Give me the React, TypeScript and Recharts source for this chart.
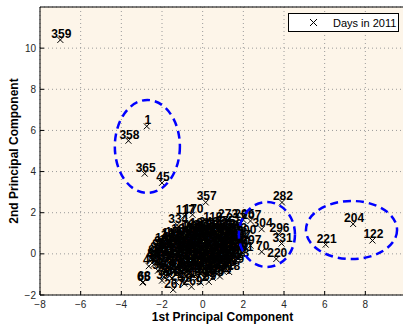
import { ScatterChart, Scatter, XAxis, YAxis, CartesianGrid, ReferenceArea, Legend } from 'recharts'

// isolated days (PC1, PC2)
const outlierX = [-7.0, -2.75, -3.65, -2.85, -2.0, 0.15, 3.9, 7.4, 8.35, 6.05, 3.62, 3.88, 3.73, 2.9, 2.0, 2.35, 2.9,
  -2.95, -2.93, -1.45, -0.55, -0.9, -0.5, 0.45, -1.25, -0.6, -1.6, -2.0, -2.45, -2.65, -2.0, 1.2, 1.6, 2.35, 2.1]
const outlierY = [10.4, 6.2, 5.5, 3.9, 3.45, 2.5, 2.5, 1.45, 0.65, 0.45, -0.25, 0.5, 0.95, 1.2, 1.65, 1.6, 0.1,
  -1.4, -1.37, -1.75, -1.6, 1.85, 1.9, 1.5, 1.4, 1.1, 0.7, 0.2, -0.25, -0.6, -1.3, 1.65, 1.45, 0.4, 0.85]
const outlierDay = [359, 1, 358, 365, 45, 357, 282, 204, 122, 221, 220, 331, 296, 304, 205, 207, 70,
  65, 68, 267, 269, 117, 170, 119, 334, 186, 111, 78, 85, 47, 39, 273, 237, 297, 300]

// the dense cloud of ordinary days
const clusterX = [
  -0.2, 0.25, 0.7, 1.05, 1.4,
  -1.1, -0.7, -0.3, 0.1, 0.5, 0.9, 1.3, 1.65,
  -1.6, -1.2, -0.8, -0.4, 0.0, 0.4, 0.8, 1.2, 1.55, 1.85,
  -2.1, -1.7, -1.3, -0.9, -0.5, -0.1, 0.3, 0.7, 1.1, 1.45, 1.8,
  -2.3, -1.9, -1.5, -1.1, -0.7, -0.3, 0.1, 0.5, 0.9, 1.3, 1.65, 1.95,
  -2.5, -2.1, -1.7, -1.3, -0.9, -0.5, -0.1, 0.3, 0.7, 1.1, 1.45, 1.75,
  -2.4, -2.0, -1.6, -1.2, -0.8, -0.4, 0.0, 0.4, 0.8, 1.2, 1.5,
  -2.2, -1.8, -1.4, -1.0, -0.6, -0.2, 0.2, 0.6, 1.0, 1.3,
  -1.9, -1.5, -1.1, -0.7, -0.3, 0.1, 0.5, 0.85,
  -1.3, -0.9, -0.1, 0.3,
  -0.5, -0.05, 0.45, 0.9, 1.25,
  -1.4, -0.9, -0.5, -0.1, 0.3, 0.7, 1.1, 1.5,
  -1.9, -1.5, -1.1, -0.7, -0.3, 0.1, 0.5, 0.9, 1.3, 1.65,
  -2.2, -1.8, -1.4, -1.0, -0.6, -0.2, 0.2, 0.6, 1.0, 1.4, 1.7,
  -2.4, -2.0, -1.6, -1.2, -0.8, -0.4, 0.0, 0.4, 0.8, 1.2, 1.6,
  -2.3, -1.9, -1.5, -1.1, -0.7, -0.3, 0.1, 0.5, 0.9, 1.3,
  -2.1, -1.7, -1.3, -0.9, -0.5, -0.1, 0.3, 0.7, 1.1,
  -1.7, -1.3, -0.9, -0.5, -0.1, 0.3, 0.7,
]
const clusterY = [
  1.22, 1.28, 1.2, 1.3, 1.18,
  0.92, 0.98, 0.9, 1.0, 0.94, 0.97, 0.9, 0.95,
  0.62, 0.68, 0.6, 0.66, 0.7, 0.62, 0.65, 0.6, 0.68, 0.63,
  0.32, 0.38, 0.3, 0.36, 0.4, 0.33, 0.37, 0.3, 0.35, 0.38, 0.32,
  0.02, 0.08, 0.0, 0.06, 0.1, 0.03, 0.07, 0.0, 0.05, 0.08, 0.02, 0.06,
  -0.28, -0.22, -0.3, -0.24, -0.2, -0.27, -0.23, -0.3, -0.25, -0.21, -0.28, -0.24,
  -0.52, -0.58, -0.5, -0.56, -0.6, -0.53, -0.57, -0.5, -0.55, -0.58, -0.52,
  -0.82, -0.88, -0.8, -0.86, -0.9, -0.83, -0.87, -0.8, -0.85, -0.88,
  -1.12, -1.18, -1.1, -1.16, -1.2, -1.13, -1.17, -1.1,
  -1.38, -1.45, -1.4, -1.36,
  1.08, 1.12, 1.05, 1.1, 1.06,
  0.78, 0.82, 0.76, 0.8, 0.84, 0.79, 0.77, 0.81,
  0.48, 0.52, 0.47, 0.5, 0.54, 0.49, 0.51, 0.46, 0.53, 0.48,
  0.18, 0.22, 0.17, 0.2, 0.24, 0.19, 0.21, 0.16, 0.23, 0.18, 0.2,
  -0.12, -0.08, -0.1, -0.13, -0.07, -0.11, -0.09, -0.14, -0.1, -0.08, -0.12,
  -0.42, -0.38, -0.4, -0.43, -0.37, -0.41, -0.39, -0.44, -0.4, -0.38,
  -0.72, -0.68, -0.7, -0.73, -0.67, -0.71, -0.69, -0.74, -0.7,
  -1.02, -0.98, -1.0, -1.03, -0.97, -1.01, -0.99,
]
const clusterDay = [
  183, 246, 213, 275, 236,
  184, 152, 198, 161, 229, 250, 239, 263,
  101, 135, 172, 146, 190, 209, 222, 255, 241, 287,
  92, 124, 107, 141, 166, 177, 201, 218, 232, 258, 290,
  83, 98, 113, 128, 155, 160, 187, 195, 226, 244, 268, 301,
  44, 86, 95, 130, 149, 171, 188, 206, 215, 251, 272, 293,
  40, 57, 74, 103, 138, 159, 180, 197, 225, 262, 309,
  36, 52, 67, 90, 116, 143, 168, 193, 231, 318,
  31, 48, 63, 81, 109, 136, 175, 284,
  24, 59, 72, 89,
  200, 212, 245, 256, 270,
  150, 162, 173, 189, 202, 219, 234, 260,
  105, 118, 131, 147, 163, 178, 194, 214, 240, 266,
  96, 110, 126, 140, 157, 174, 191, 208, 227, 253, 278,
  87, 100, 114, 127, 145, 165, 181, 199, 216, 248, 286,
  50, 61, 77, 99, 121, 142, 164, 185, 223, 264,
  42, 55, 69, 91, 123, 148, 176, 203, 233,
  28, 46, 62, 79, 104, 137, 182,
]

// dashed groupings: centre and half-extent in data units
const ellipseCx = [-2.72, 3.16, 7.32]
const ellipseCy = [5.22, 0.94, 1.16]
const ellipseRx = [1.6, 1.38, 2.24]
const ellipseRy = [2.26, 1.58, 1.41]

const xTicks = [-8, -6, -4, -2, 0, 2, 4, 6, 8]
const yTicks = [-2, 0, 2, 4, 6, 8, 10]

const FONT = '"Liberation Sans", Arial, Helvetica, sans-serif'
const TM = 4

const fmt = (v: number) => (v < 0 ? '\u2212' + Math.abs(v) : String(v))

const clusterData = clusterX.map((x, i) => ({ x, y: clusterY[i], day: clusterDay[i] }))
const outlierData = outlierX.map((x, i) => ({ x, y: outlierY[i], day: outlierDay[i] }))

function DayMark(props: any) {
  const { cx, cy, payload } = props
  if (cx == null || cy == null) return null
  return (
    <g>
      <path
        d={`M${cx - 3},${cy - 3}L${cx + 3},${cy + 3}M${cx - 3},${cy + 3}L${cx + 3},${cy - 3}`}
        stroke="#000"
        strokeWidth={1}
      />
      <text x={cx + 1} y={cy - 2} textAnchor="middle" fontSize={12} fontWeight="bold" fontFamily={FONT} fill="#000">
        {payload.day}
      </text>
    </g>
  )
}

function BottomTick(props: any) {
  const { x, y, payload } = props
  const axisY = y - TM
  return (
    <g>
      <line x1={x} x2={x} y1={axisY} y2={axisY - 4} stroke="#000" />
      <text x={x} y={axisY + 13} textAnchor="middle" fontSize={10} fontFamily={FONT} fill="#262626">
        {fmt(payload.value)}
      </text>
    </g>
  )
}

function TopTick(props: any) {
  const { x, y } = props
  const axisY = y + TM
  return <line x1={x} x2={x} y1={axisY} y2={axisY + 4} stroke="#000" />
}

function LeftTick(props: any) {
  const { x, y, payload } = props
  const axisX = x + TM
  return (
    <g>
      <line x1={axisX} x2={axisX + 4} y1={y} y2={y} stroke="#000" />
      <text x={axisX - 4} y={y + 3.5} textAnchor="end" fontSize={10} fontFamily={FONT} fill="#262626">
        {fmt(payload.value)}
      </text>
    </g>
  )
}

function EllipseShape(props: any) {
  const { x, y, width, height } = props
  return (
    <ellipse
      cx={x + width / 2}
      cy={y + height / 2}
      rx={Math.abs(width) / 2}
      ry={Math.abs(height) / 2}
      fill="none"
      stroke="#0000FF"
      strokeWidth={2.5}
      strokeDasharray="8 5"
    />
  )
}

function LegendBox() {
  return (
    <div
      style={{
        width: 111,
        height: 19,
        boxSizing: 'border-box',
        border: '1px solid #000',
        background: '#fff',
        display: 'flex',
        alignItems: 'center',
        fontFamily: FONT,
        fontSize: 11,
        color: '#000',
      }}
    >
      <svg width={44} height={17}>
        <path d="M21,5L28,12M21,12L28,5" stroke="#000" strokeWidth={1} />
      </svg>
      <span>Days in 2011</span>
    </div>
  )
}

export default function App() {
  return (
    <div style={{ position: 'absolute', left: 0, top: 0, width: 403, height: 324, overflow: 'hidden', background: '#fff' }}>
      <ScatterChart width={407} height={324} margin={{ top: 1, right: 1, bottom: 0, left: 0 }}>
        <CartesianGrid stroke="#9a9a9a" strokeDasharray="1 3" fill="#FDF5E9" fillOpacity={1} />
        <XAxis
          type="number"
          dataKey="x"
          domain={[-8, 10]}
          ticks={xTicks}
          allowDataOverflow
          height={29}
          tickSize={0}
          tickMargin={TM}
          tick={<BottomTick />}
          axisLine={{ stroke: '#000' }}
          label={{
            content: (p: any) => {
              const vb = p.viewBox
              return (
                <text x={222.5} y={vb.y + 26} textAnchor="middle" fontSize={12} fontWeight="bold" fontFamily={FONT} fill="#000">
                  1st Principal Component
                </text>
              )
            },
          }}
        />
        <XAxis
          xAxisId="top"
          orientation="top"
          type="number"
          domain={[-8, 10]}
          ticks={xTicks}
          allowDataOverflow
          height={6}
          tickSize={0}
          tickMargin={TM}
          tick={<TopTick />}
          axisLine={{ stroke: '#000' }}
        />
        <YAxis
          type="number"
          dataKey="y"
          domain={[-2, 12]}
          ticks={yTicks}
          allowDataOverflow
          width={40}
          tickSize={0}
          tickMargin={TM}
          tick={<LeftTick />}
          axisLine={{ stroke: '#000' }}
          label={{
            content: (p: any) => {
              const vb = p.viewBox
              const cy = vb.y + vb.height / 2
              return (
                <text
                  x={18}
                  y={cy}
                  transform={`rotate(-90 18 ${cy})`}
                  textAnchor="middle"
                  fontSize={12}
                  fontWeight="bold"
                  fontFamily={FONT}
                  fill="#000"
                >
                  2nd Principal Component
                </text>
              )
            },
          }}
        />
        <Scatter data={clusterData} shape={<DayMark />} isAnimationActive={false} />
        <Scatter data={outlierData} shape={<DayMark />} isAnimationActive={false} />
        {ellipseCx.map((cx, i) => (
          <ReferenceArea
            key={i}
            x1={cx - ellipseRx[i]}
            x2={cx + ellipseRx[i]}
            y1={ellipseCy[i] - ellipseRy[i]}
            y2={ellipseCy[i] + ellipseRy[i]}
            shape={<EllipseShape />}
            zIndex={700}
          />
        ))}
        <Legend
          layout="vertical"
          align="center"
          verticalAlign="middle"
          wrapperStyle={{ position: 'absolute', left: 288, top: 13, width: 111, height: 19 }}
          content={() => <LegendBox />}
        />
      </ScatterChart>
    </div>
  )
}
